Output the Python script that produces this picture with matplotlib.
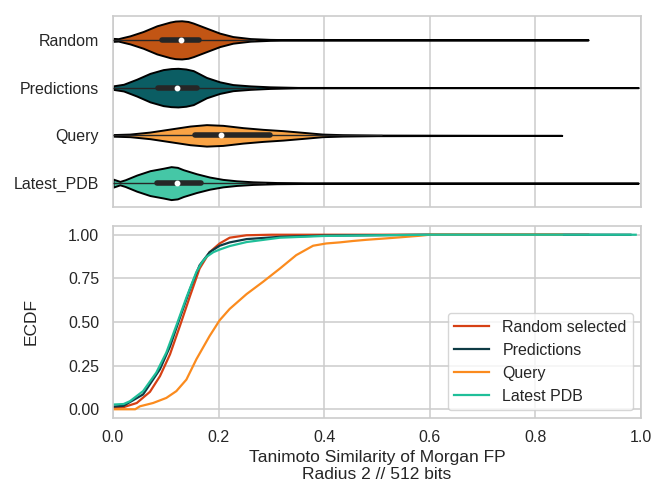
import matplotlib
matplotlib.use("Agg")
import matplotlib.pyplot as plt
import numpy as np

# ---------------- data ----------------
categories = ["Random", "Predictions", "Query", "Latest_PDB"]

# violin outline: x positions and half-width (density) values
rand_coords = [0, 0.01, 0.02, 0.032, 0.057, 0.083, 0.108, 0.118, 0.13, 0.142, 0.152, 0.177, 0.202, 0.227, 0.26, 0.297, 0.35, 0.90]
rand_vals = [1.5, 1.2, 2.5, 4.0, 8.3, 14.0, 17.7, 18.7, 19.0, 18.3, 16.7, 11.7, 6.7, 3.3, 1.3, 0.5, 0.1, 0.0]
pred_coords = [0, 0.02, 0.045, 0.07, 0.095, 0.11, 0.123, 0.138, 0.152, 0.177, 0.202, 0.227, 0.26, 0.297, 0.35, 0.995]
pred_vals = [1.7, 3.3, 8.3, 14.0, 17.7, 18.7, 19.0, 18.3, 16.7, 10.0, 5.7, 3.0, 1.7, 0.8, 0.2, 0.0]
query_coords = [0, 0.032, 0.07, 0.108, 0.146, 0.177, 0.208, 0.246, 0.284, 0.322, 0.36, 0.397, 0.435, 0.5, 0.85]
query_vals = [0.8, 1.3, 3.3, 6.3, 9.3, 10.7, 10.0, 7.7, 6.0, 4.7, 3.0, 1.3, 0.7, 0.3, 0.0]
pdb_coords = [0, 0.013, 0.023, 0.045, 0.07, 0.095, 0.11, 0.122, 0.133, 0.158, 0.183, 0.208, 0.234, 0.265, 0.31, 0.4, 0.995]
pdb_vals = [4.0, 1.7, 3.3, 8.0, 12.3, 14.7, 16.3, 15.6, 13.3, 9.3, 6.0, 3.7, 2.3, 1.3, 0.6, 0.2, 0.0]

# box stats: q1, median, q3, whisker low, whisker high
q1 = [0.093, 0.085, 0.155, 0.083]
medians = [0.128, 0.122, 0.204, 0.122]
q3 = [0.163, 0.160, 0.297, 0.166]
whisk_lo = [0.0, 0.0, 0.0, 0.0]
whisk_hi = [0.268, 0.27, 0.51, 0.29]

# ECDF curves
ecdf_labels = ["Random selected", "Predictions", "Query", "Latest PDB"]
rand_x = [0, 0.02, 0.045, 0.07, 0.089, 0.108, 0.127, 0.146, 0.164, 0.183, 0.202, 0.221, 0.253, 0.3, 0.90]
rand_y = [0.008, 0.012, 0.036, 0.10, 0.19, 0.315, 0.48, 0.65, 0.806, 0.90, 0.95, 0.983, 0.997, 1.0, 1.0]
pred_x = [0, 0.02, 0.057, 0.089, 0.108, 0.127, 0.146, 0.164, 0.183, 0.202, 0.221, 0.253, 0.316, 0.4, 0.6, 0.98]
pred_y = [0.015, 0.02, 0.085, 0.23, 0.36, 0.527, 0.69, 0.825, 0.90, 0.937, 0.956, 0.975, 0.988, 0.995, 1.0, 1.0]
query_x = [0, 0.042, 0.051, 0.076, 0.101, 0.12, 0.139, 0.158, 0.183, 0.202, 0.221, 0.253, 0.284, 0.316,
           0.347, 0.379, 0.404, 0.429, 0.454, 0.48, 0.517, 0.543, 0.58, 0.6, 0.85]
query_y = [0.0, 0.0, 0.017, 0.036, 0.065, 0.104, 0.17, 0.287, 0.42, 0.51, 0.575, 0.66, 0.73, 0.806,
           0.883, 0.937, 0.95, 0.956, 0.964, 0.971, 0.979, 0.985, 0.994, 1.0, 1.0]
pdb_x = [0, 0.02, 0.032, 0.057, 0.082, 0.101, 0.12, 0.139, 0.158, 0.168, 0.177, 0.19, 0.202, 0.221, 0.253, 0.316, 0.4, 0.6, 0.99]
pdb_y = [0.027, 0.03, 0.046, 0.104, 0.21, 0.325, 0.48, 0.64, 0.787, 0.84, 0.873, 0.90, 0.915, 0.935, 0.958, 0.983, 0.993, 1.0, 1.0]

x_ticks = [0.0, 0.2, 0.4, 0.6, 0.8, 1.0]
y_ticks = [0.00, 0.25, 0.50, 0.75, 1.00]

# ---------------- style ----------------
violin_colors = ["#c25514", "#0b5d63", "#f9a345", "#45c7a6"]
line_colors = ["#d64014", "#0e3b45", "#fb8b1e", "#1fbf99"]
violin_widths = [0.8, 0.81, 0.45, 0.69]
GRID = "#cccccc"
TXT = "#262626"

plt.rcParams["font.family"] = ["Liberation Sans", "DejaVu Sans"]
plt.rcParams["font.size"] = 11.5

fig = plt.figure(figsize=(6.56, 4.87), dpi=100)
ax1 = fig.add_axes([113 / 656, 1 - 207 / 487, 528 / 656, 191 / 487])
ax2 = fig.add_axes([113 / 656, 1 - 418 / 487, 528 / 656, 192 / 487], sharex=ax1)

for ax in (ax1, ax2):
    ax.set_facecolor("white")
    for s in ax.spines.values():
        s.set_color(GRID)
        s.set_linewidth(1.2)
    ax.set_axisbelow(True)
    ax.tick_params(length=0, labelsize=11.5, colors=TXT)
ax1.tick_params(axis="y", pad=10)
ax2.tick_params(axis="y", pad=10)
ax2.tick_params(axis="x", pad=9)

# ---------------- violins ----------------
coords_list = [rand_coords, pred_coords, query_coords, pdb_coords]
vals_list = [rand_vals, pred_vals, query_vals, pdb_vals]
positions = list(range(len(categories)))
for p, c, v, w, col in zip(positions, coords_list, vals_list, violin_widths, violin_colors):
    c = np.asarray(c, float)
    v = np.asarray(v, float)
    half = 0.5 * w * v / v.max()
    ax1.fill_between(c, p - half, p + half, facecolor=col, edgecolor="black",
                     linewidth=1.4, zorder=2)

for p, a, b, c, d, m in zip(positions, whisk_lo, whisk_hi, q1, q3, medians):
    ax1.plot([a, b], [p, p], color=TXT, lw=1.0, zorder=3, solid_capstyle="butt")
    ax1.plot([c, d], [p, p], color=TXT, lw=4.0, zorder=4, solid_capstyle="round")
    ax1.plot([m], [p], marker="o", ms=3.2, mfc="white", mec="white", zorder=5)

ax1.set_ylim(len(categories) - 0.5, -0.5)
ax1.set_yticks(positions)
ax1.set_yticklabels(categories)
ax1.grid(axis="x", color=GRID, lw=1.1)
ax1.grid(axis="y", visible=False)
plt.setp(ax1.get_xticklabels(), visible=False)

# ---------------- ECDF ----------------
xs = [rand_x, pred_x, query_x, pdb_x]
ys = [rand_y, pred_y, query_y, pdb_y]
for x, y, col, lab in zip(xs, ys, line_colors, ecdf_labels):
    ax2.plot(x, y, color=col, lw=1.6, label=lab)

ax2.set_xlim(0, 1)
ax2.set_ylim(-0.05, 1.05)
ax2.set_xticks(x_ticks)
ax2.set_xticklabels([f"{t:.1f}" for t in x_ticks])
ax2.set_yticks(y_ticks)
ax2.set_yticklabels([f"{t:.2f}" for t in y_ticks])
ax2.grid(True, color=GRID, lw=1.1)
ax2.set_ylabel("ECDF", fontsize=12.5, color=TXT, labelpad=21)
ax2.set_xlabel("Tanimoto Similarity of Morgan FP\nRadius 2 // 512 bits", fontsize=12.5,
               color=TXT, linespacing=1.2, labelpad=3)
leg = ax2.legend(loc="lower right", fontsize=11.5, frameon=True, fancybox=True,
                 borderaxespad=0.5, handlelength=2.2, labelspacing=0.5)
leg.get_frame().set_edgecolor(GRID)
for t in leg.get_texts():
    t.set_color(TXT)

fig.savefig("out.png", dpi=100, facecolor="white")
